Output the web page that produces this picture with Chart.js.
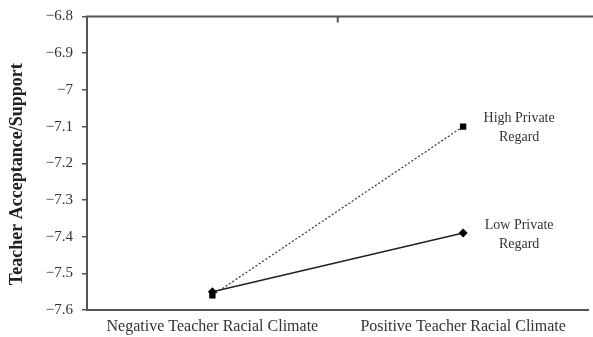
<!DOCTYPE html>
<html>
<head>
<meta charset="utf-8">
<script src="https://cdn.jsdelivr.net/npm/chart.js@4/dist/chart.umd.min.js"></script>
<style>
  html, body { margin: 0; padding: 0; background: #fff; }
  #wrap { width: 593px; height: 337px; position: relative; }
</style>
</head>
<body>
<div id="wrap"><canvas id="c" width="593" height="337"></canvas></div>
<script>
// Teacher acceptance/support by teacher racial climate, split by private regard
const categories = ['Negative Teacher Racial Climate', 'Positive Teacher Racial Climate'];
const highPrivateRegard = [-7.56, -7.10];
const lowPrivateRegard = [-7.55, -7.39];
const seriesNames = [['High Private', 'Regard'], ['Low Private', 'Regard']];
const yTicks = [-6.8, -6.9, -7.0, -7.1, -7.2, -7.3, -7.4, -7.5, -7.6];
const yTitle = 'Teacher Acceptance/Support';

const SERIF = '"Liberation Serif", "Times New Roman", serif';
const AXIS_COLOR = '#555';

function fmt(v) {
  const s = (Math.round(v * 10) / 10).toString();
  return s.replace('-', '\u2212');
}

// Frame: top rule with a divider tick, the y title, and series names beside last points
const framePlugin = {
  id: 'frame',
  afterDraw(chart) {
    const { ctx, chartArea: a } = chart;
    const xs = chart.scales.x;
    ctx.save();
    ctx.strokeStyle = AXIS_COLOR;
    ctx.lineWidth = 2;
    ctx.beginPath();
    ctx.moveTo(a.left - 1, a.top);
    ctx.lineTo(chart.width, a.top);
    const mid = (xs.getPixelForValue(0) + xs.getPixelForValue(1)) / 2;
    ctx.moveTo(mid, a.top);
    ctx.lineTo(mid, a.top + 6);
    ctx.stroke();

    // rotated y-axis title
    ctx.save();
    ctx.translate(17, (a.top + a.bottom) / 2 + 11);
    ctx.rotate(-Math.PI / 2);
    ctx.fillStyle = '#222';
    ctx.font = 'bold 18px ' + SERIF;
    ctx.textAlign = 'center';
    ctx.textBaseline = 'middle';
    ctx.fillText(yTitle, 0, 0);
    ctx.restore();

    ctx.fillStyle = '#333';
    ctx.font = '14px ' + SERIF;
    ctx.textAlign = 'center';
    ctx.textBaseline = 'middle';
    chart.data.datasets.forEach((ds, i) => {
      const meta = chart.getDatasetMeta(i);
      const pt = meta.data[meta.data.length - 1];
      const lines = seriesNames[i];
      ctx.fillText(lines[0], pt.x + 56, pt.y - 8);
      ctx.fillText(lines[1], pt.x + 56, pt.y + 11);
    });
    ctx.restore();
  }
};

new Chart(document.getElementById('c'), {
  type: 'line',
  data: {
    labels: categories,
    datasets: [
      {
        label: seriesNames[0].join(' '),
        data: highPrivateRegard,
        borderColor: '#333',
        borderWidth: 1.2,
        borderDash: [2, 2],
        pointStyle: 'rect',
        pointRadius: 4.5,
        pointBackgroundColor: '#000',
        pointBorderColor: '#000',
        pointBorderWidth: 0,
        fill: false,
        tension: 0
      },
      {
        label: seriesNames[1].join(' '),
        data: lowPrivateRegard,
        borderColor: '#222',
        borderWidth: 1.6,
        pointStyle: 'rectRot',
        pointRadius: 4.5,
        pointBackgroundColor: '#000',
        pointBorderColor: '#000',
        pointBorderWidth: 0,
        fill: false,
        tension: 0
      }
    ]
  },
  options: {
    responsive: false,
    animation: false,
    devicePixelRatio: 1,
    layout: { padding: { top: 15, right: 2, left: 0, bottom: 0 } },
    plugins: {
      legend: { display: false },
      tooltip: { enabled: false }
    },
    scales: {
      x: {
        type: 'category',
        offset: true,
        grid: { display: false, drawTicks: false },
        border: { display: true, color: AXIS_COLOR, width: 2 },
        ticks: {
          color: '#333',
          font: { family: SERIF, size: 16 },
          padding: 7,
          maxRotation: 0,
          autoSkip: false
        },
        afterFit(scale) { scale.height = 27; }
      },
      y: {
        min: -7.6,
        max: -6.8,
        afterBuildTicks(scale) {
          scale.ticks = yTicks.map(v => ({ value: v }));
        },
        grid: {
          display: true,
          drawOnChartArea: false,
          drawTicks: true,
          tickLength: 5,
          color: AXIS_COLOR,
          lineWidth: 1.5
        },
        border: { display: true, color: AXIS_COLOR, width: 2 },
        ticks: {
          color: '#333',
          font: { family: SERIF, size: 15, lineHeight: 1 },
          padding: 9,
          callback: v => fmt(v)
        },
        title: { display: false },
        afterFit(scale) { scale.width = 87; }
      }
    }
  },
  plugins: [framePlugin]
});
</script>
</body>
</html>
